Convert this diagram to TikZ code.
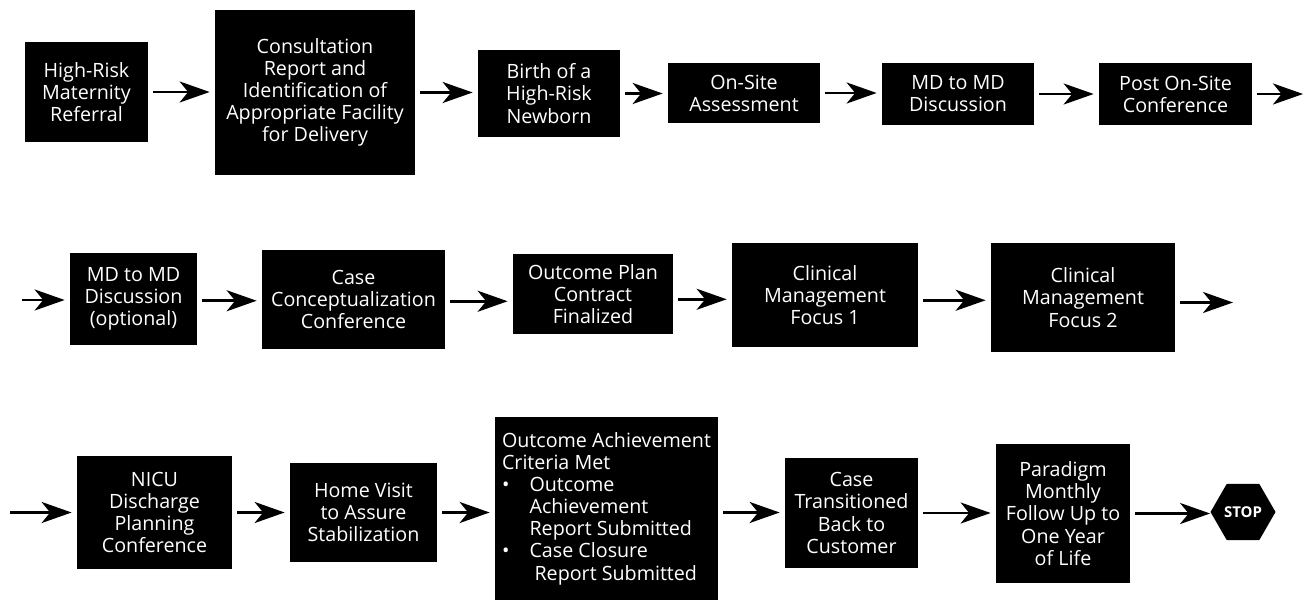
\documentclass[tikz,border=0pt]{standalone}
\usepackage{fontspec}
\setmainfont{Open Sans}
\usepackage{tikz}
\usetikzlibrary{shapes.geometric, arrows.meta}
\tikzstyle{stage} = [rectangle, fill=black, text=white, align=center, inner sep=2pt, font=\fontsize{11.2}{12.6}\selectfont]
\tikzstyle{arrow} = [draw, line width=1.5pt, -{Stealth[length=0.6cm, width=0.42cm, inset=0.17cm]}, shorten <=0.1cm, shorten >=0.1cm]
\tikzstyle{stopsign} = [regular polygon, regular polygon sides=6, fill=black, text=white, minimum size=1.3cm, inner sep=0pt, font=\fontsize{8.5}{9}\selectfont\bfseries]

\begin{document}
\begin{tikzpicture}
\useasboundingbox (0, 0) rectangle (26.3, -12.02);

%% first row
\node [stage, minimum width=2.46cm, minimum height=2cm] at (1.73, -1.84) (referral) {High-Risk\\Maternity\\Referral};
\node [stage, minimum width=4cm, minimum height=3.3cm] at (6.3, -1.85) (consult) {Consultation\\Report and\\Identification of\\Appropriate Facility\\for Delivery};
\node [stage, minimum width=2.84cm, minimum height=1.74cm] at (10.98, -1.87) (birth) {Birth of a\\High-Risk\\Newborn};
\node [stage, minimum width=3.04cm, minimum height=1.2cm] at (14.88, -1.86) (onsite) {On-Site\\Assessment};
\node [stage, minimum width=3.04cm, minimum height=1.24cm] at (19.16, -1.88) (mdmd) {MD to MD\\Discussion};
\node [stage, minimum width=3.06cm, minimum height=1.24cm] at (23.51, -1.88) (postconf) {Post On-Site\\Conference};
\coordinate (rowoneend) at (26.16, -1.88);

\path [arrow] (referral.east) to (referral.east -| consult.west);
\path [arrow] (consult.east) to (consult.east -| birth.west);
\path [arrow] (birth.east) to (birth.east -| onsite.west);
\path [arrow] (onsite.east) to (onsite.east -| mdmd.west);
\path [arrow] (mdmd.east) to (mdmd.east -| postconf.west);
\path [arrow] (postconf.east) to (rowoneend);

%% second row
\coordinate (rowtwostart) at (0.34, -6.0);
\node [stage, minimum width=2.54cm, minimum height=1.84cm] at (2.67, -5.98) (mdopt) {MD to MD\\Discussion\\(optional)};
\node [stage, minimum width=3.66cm, minimum height=1.98cm] at (7.07, -5.99) (caseconf) {Case\\Conceptualization\\Conference};
\node [stage, minimum width=3.2cm, minimum height=1.6cm] at (11.86, -5.88) (outplan) {Outcome Plan\\Contract\\Finalized};
\node [stage, minimum width=3.72cm, minimum height=2.08cm] at (16.5, -5.9) (focusone) {Clinical\\Management\\Focus 1};
\node [stage, minimum width=3.68cm, minimum height=2.18cm] at (21.66, -5.95) (focustwo) {Clinical\\Management\\Focus 2};
\coordinate (rowtwoend) at (24.76, -6.05);

\path [arrow] (rowtwostart) to (rowtwostart -| mdopt.west);
\path [arrow] ([yshift=-1pt]mdopt.east) to ([yshift=-1pt]mdopt.east -| caseconf.west);
\path [arrow] ([yshift=-1pt]caseconf.east) to ([yshift=-1pt]caseconf.east -| outplan.west);
\path [arrow] ([yshift=-3pt]outplan.east) to ([yshift=-3pt]outplan.east -| focusone.west);
\path [arrow] ([yshift=-3pt]focusone.east) to ([yshift=-3pt]focusone.east -| focustwo.west);
\path [arrow] (focustwo.east |- rowtwoend) to (rowtwoend);

%% third row
\coordinate (rowthreestart) at (0.1, -10.25);
\node [stage, minimum width=3.1cm, minimum height=2.26cm] at (3.09, -10.25) (nicu) {NICU\\Discharge\\Planning\\Conference};
\node [stage, minimum width=2.94cm, minimum height=1.98cm] at (7.27, -10.25) (homevisit) {Home Visit\\to Assure\\Stabilization};
\node [stage, align=left, inner xsep=1pt, minimum width=4.46cm, minimum height=3.66cm] at (12.13, -10.17) (criteria) {Outcome Achievement\\Criteria Met\\\makebox[0.55cm][l]{•}Outcome\\\hspace*{0.55cm}Achievement\\\hspace*{0.55cm}Report Submitted\\\makebox[0.55cm][l]{•}Case Closure\\\hspace*{0.65cm}Report Submitted};
\node [stage, minimum width=2.66cm, minimum height=2.2cm] at (17.03, -10.26) (transition) {Case\\Transitioned\\Back to\\Customer};
\node [stage, minimum width=2.68cm, minimum height=2.78cm] at (21.26, -10.27) (followup) {Paradigm\\Monthly\\Follow Up to\\One Year\\of Life};
\node [stopsign] at (24.86, -10.24) (stop) {STOP};

\path [arrow] (rowthreestart) to (rowthreestart -| nicu.west);
\path [arrow] (nicu.east) to (nicu.east -| homevisit.west);
\path [arrow] (homevisit.east) to (homevisit.east -| criteria.west);
\path [arrow] (criteria.east |- homevisit.east) to (homevisit.east -| transition.west);
\path [arrow] (transition.east) to (transition.east -| followup.west);
\path [arrow, shorten >=0pt] (followup.east) to (followup.east -| stop.west);
\end{tikzpicture}
\end{document}
